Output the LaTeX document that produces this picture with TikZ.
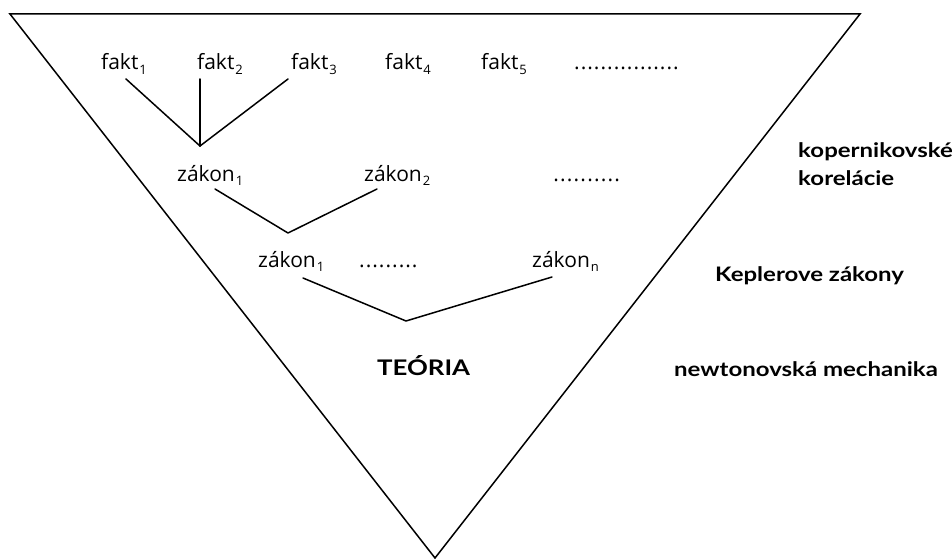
\documentclass[tikz,border=0pt]{standalone}
\usepackage{fontspec}
\usepackage{graphicx}
\setmainfont{Open Sans}
\newfontfamily\labfont{Lato}
\newcommand{\subidx}[1]{\kern1pt\raisebox{-4.5pt}{\fontsize{13}{13}\selectfont #1}}
\newcommand{\dotrow}[2]{\hbox to \dimexpr #1pt*#2\relax{\leaders\hbox to #1pt{\hss.\hss}\hfill}}
\newcommand{\wide}[1]{\scalebox{1.2}[1]{#1}}
\begin{document}
\begin{tikzpicture}[x=1pt,y=-1pt,
  txt/.style={inner sep=0pt,anchor=base west,font=\fontsize{21}{25}\selectfont},
  lab/.style={inner sep=0pt,anchor=base west,font=\labfont\bfseries\fontsize{20}{24}\selectfont},
  ln/.style={line width=1.5pt,line cap=round,line join=round}]
\useasboundingbox (0,0) rectangle (952,559);
% triangle
\coordinate (tl) at (10,14);
\coordinate (tr) at (860,14);
\coordinate (bt) at (435,558);
\draw[ln,line cap=butt,line join=miter] (tl) -- (tr) -- (bt) -- cycle;
% facts
\node[txt] (f1) at (101,70) {fakt\subidx{1}};
\node[txt] (f2) at (197,70) {fakt\subidx{2}};
\node[txt] (f3) at (291,70) {fakt\subidx{3}};
\node[txt] (f4) at (385,70) {fakt\subidx{4}};
\node[txt] (f5) at (481,70) {fakt\subidx{5}};
\node[txt] (fd) at (573.5,70) {\dotrow{6.6}{16}};
% laws row 1
\node[txt] (z1) at (177,181) {zákon\subidx{1}};
\node[txt] (z2) at (364,181) {zákon\subidx{2}};
\node[txt] (zd) at (552.5,181) {\dotrow{6.8}{10}};
% laws row 2
\node[txt] (k1) at (258,267) {zákon\subidx{1}};
\node[txt] (kd) at (358.5,267) {\dotrow{6.6}{9}};
\node[txt] (kn) at (532,267) {zákon\subidx{n}};
% theory
\node[lab,font=\labfont\bfseries\fontsize{21.5}{25}\selectfont] (th) at (377,375) {\wide{TEÓRIA}};
% right labels
\node[lab] (r1) at (798,157) {\wide{kopernikovské}};
\node[lab] (r2) at (798,185) {\wide{korelácie}};
\node[lab] (r3) at (715,281) {\wide{Keplerove zákony}};
\node[lab] (r4) at (674,376) {\wide{newtonovská mechanika}};
% connector coordinates
\coordinate (f1e) at (126,79);
\coordinate (f2e) at (200,79);
\coordinate (f3e) at (288,79);
\coordinate (a1) at (200,146);
\coordinate (z1e) at (215,189);
\coordinate (z2e) at (377,189);
\coordinate (a2) at (288,233);
\coordinate (k1e) at (303,278);
\coordinate (kne) at (552,277);
\coordinate (a3) at (406,321);
\draw[ln] (f1e) -- (a1);
\draw[ln] (f2e) -- (a1);
\draw[ln] (f3e) -- (a1);
\draw[ln] (z1e) -- (a2) -- (z2e);
\draw[ln] (k1e) -- (a3) -- (kne);
\end{tikzpicture}
\end{document}
